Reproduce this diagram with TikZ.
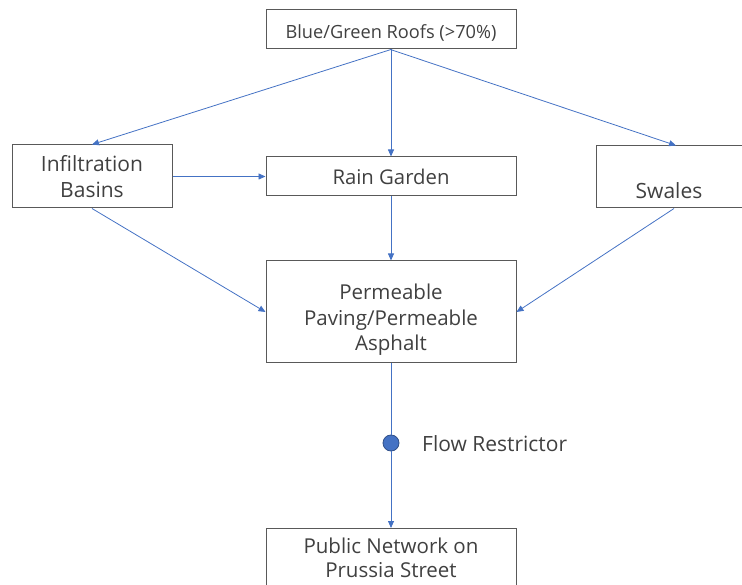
\documentclass[tikz,border=0pt]{standalone}
\usepackage{fontspec}
\setmainfont{Open Sans}
\usetikzlibrary{arrows.meta,positioning}

\definecolor{flowblue}{HTML}{4472C4}
\definecolor{boxgray}{HTML}{595959}
\definecolor{txtgray}{HTML}{404040}

\begin{document}
\begin{tikzpicture}[
  x=1pt, y=-1pt,
  box/.style={draw=boxgray, line width=1pt, text=txtgray, align=center, inner sep=0pt},
  big/.style={font=\fontsize{20.5}{25.5}\selectfont},
  txt/.style={text=txtgray, align=center, inner sep=0pt},
  arrow/.style={-{Triangle[length=7pt,width=6pt]}, draw=flowblue, line width=0.8pt},
  flow/.style={draw=flowblue, line width=0.8pt},
]
\useasboundingbox (0,0) rectangle (742,585);

% === BOXES ===
\node[box, minimum width=250pt, minimum height=39pt] (roofs) at (391,29.5) {};
\node[txt, font=\fontsize{18.2}{22}\selectfont] (roofstext) at ([yshift=-3pt]roofs.center) {Blue/Green Roofs (>70\%)};
\node[box, minimum width=160pt, minimum height=63pt, font=\fontsize{21}{26}\selectfont] (basins) at (92,176.5) {Infiltration\\Basins};
\node[box, minimum width=250pt, minimum height=39pt, font=\fontsize{20.3}{24}\selectfont] (garden) at (391,176.5) {Rain Garden};
\node[box, minimum width=146pt, minimum height=62pt, font=\fontsize{21}{26}\selectfont] (swales) at (669,177) {\strut\\Swales};
\node[box, minimum width=250pt, minimum height=102pt] (paving) at (391,312) {};
\node[txt, big] (pavingtext) at ([yshift=-8pt]paving.center) {Permeable\\Paving/Permeable\\Asphalt};
\node[box, minimum width=250pt, minimum height=58pt, font=\fontsize{20.5}{24}\selectfont, anchor=north] (network) at (391,528) {Public Network on\\Prussia Street};

% === FLOW RESTRICTOR ===
\node[circle, fill=flowblue, draw=flowblue!70!black, line width=0.8pt, minimum size=16pt, inner sep=0pt] (restrictor) at (391,443) {};
\node[text=txtgray, font=\fontsize{21}{24}\selectfont, anchor=west, inner sep=0pt] (restrictlabel) at (422,444) {Flow Restrictor};

% === CONNECTORS ===
\draw[arrow] (roofs.south) -- (basins.north);
\draw[arrow] (roofs.south) -- (garden.north);
\draw[arrow] ([xshift=-0.5pt]roofs.south) -- ([xshift=7pt]swales.north);
\draw[arrow] (basins.east) -- (garden.west);
\draw[arrow] (basins.south) -- (paving.west);
\draw[arrow] (garden.south) -- (paving.north);
\draw[arrow] ([xshift=5pt]swales.south) -- (paving.east);
\draw[flow] (paving.south) -- (restrictor.north);
\draw[arrow] (restrictor.south) -- (network.north);
\end{tikzpicture}
\end{document}
